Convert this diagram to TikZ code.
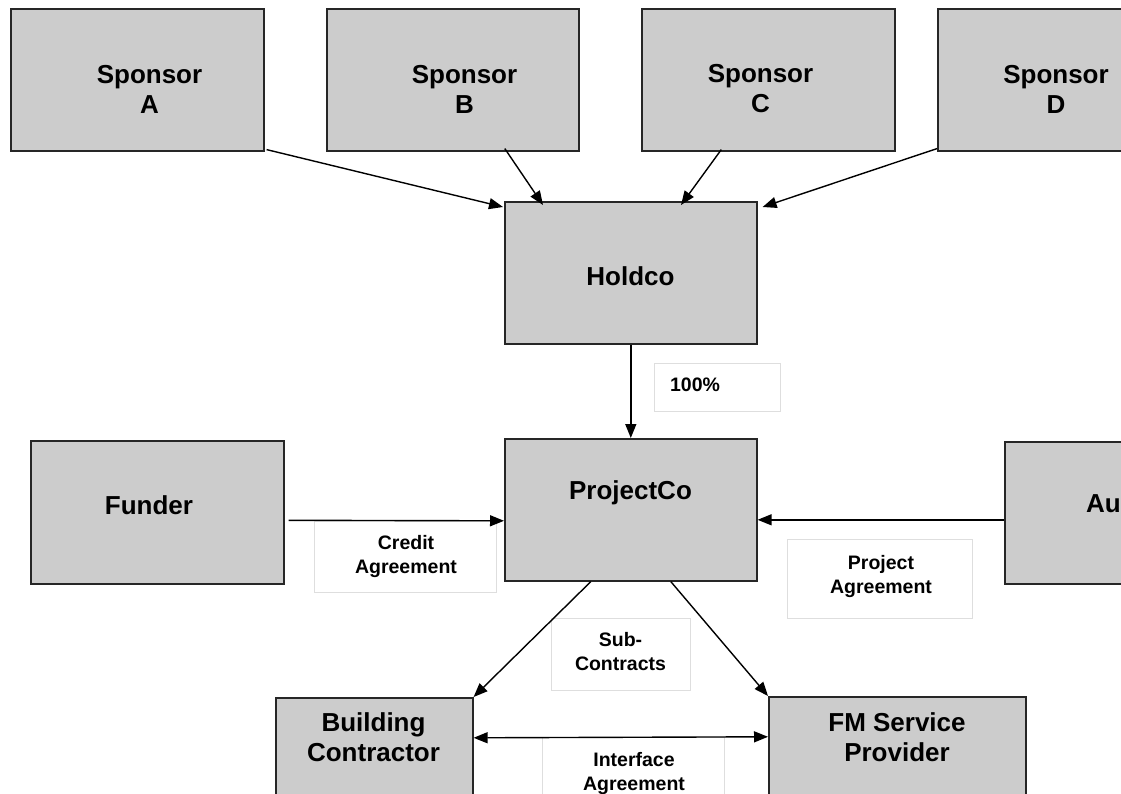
\documentclass[tikz,border=0pt]{standalone}
\usepackage{fontspec}
\setmainfont{Liberation Sans}
\usetikzlibrary{arrows.meta}
\tikzset{
  x=1pt, y=-1pt,
  box/.style={draw=black!85, fill=black!20, line width=1.6pt, rectangle, anchor=north west, inner sep=0pt},
  lbox/.style={draw=black!13, fill=white, line width=1pt, rectangle, anchor=north west, inner sep=0pt},
  big/.style={font=\bfseries\fontsize{26}{30}\selectfont, align=center, inner sep=0pt},
  small/.style={font=\bfseries\fontsize{19.5}{24}\selectfont, align=center, inner sep=0pt},
  arr/.style={line width=1.4pt, -{Triangle[length=14pt,width=11pt]}},
  darr/.style={line width=1.4pt, {Triangle[length=14pt,width=11pt]}-{Triangle[length=14pt,width=11pt]}}
}
\begin{document}
\begin{tikzpicture}
\useasboundingbox (0,0) rectangle (1121,794);
\clip (0,0) rectangle (1121,794);
% main boxes
\node[box, minimum width=253pt, minimum height=142pt] (sa) at (10,8) {};
\node[box, minimum width=252pt, minimum height=142pt] (sb) at (326,8) {};
\node[box, minimum width=253pt, minimum height=142pt] (sc) at (641,8) {};
\node[box, minimum width=253pt, minimum height=142pt] (sd) at (937,8) {};
\node[box, minimum width=252pt, minimum height=142pt] (hold) at (504,201) {};
\node[box, minimum width=252pt, minimum height=142pt] (pc) at (504,438) {};
\node[box, minimum width=253pt, minimum height=143pt] (fund) at (30,440) {};
\node[box, minimum width=253pt, minimum height=142pt] (au) at (1004,441) {};
\node[box, minimum width=197pt, minimum height=142pt] (bc) at (275,697) {};
\node[box, minimum width=257pt, minimum height=142pt] (fm) at (768,696) {};
% texts
\node[big] (saT) at (149.5,89) {Sponsor\\A};
\node[big] (sbT) at (464.5,89) {Sponsor\\B};
\node[big] (scT) at (760.5,89) {Sponsor\\C};
\node[big] (sdT) at (1056,89) {Sponsor\\D};
\node[big] (holdT) at (630.5,276) {Holdco};
\node[big] (pcT) at (630.5,493) {ProjectCo};
\node[big] (fundT) at (149,505.5) {Funder};
\node[big, anchor=west] (auT) at (1086,505.5) {Authority};
\node[big] (bcT) at (373.5,737) {Building\\Contractor};
\node[big] (fmT) at (897,737) {FM Service\\Provider};
% label boxes
\node[lbox, minimum width=126pt, minimum height=48pt] (l100) at (654,363) {};
\node[lbox, minimum width=182pt, minimum height=71pt] (lcr) at (314,521) {};
\node[lbox, minimum width=185pt, minimum height=79pt] (lpa) at (787,539) {};
\node[lbox, minimum width=139pt, minimum height=72pt] (lsc) at (551,618) {};
\node[lbox, minimum width=182pt, minimum height=80pt] (lia) at (542,737) {};
\node[small] (l100T) at (695,385) {100\%};
\node[small] (lcrT) at (406,556.5) {Credit\\Agreement};
\node[small] (lpaT) at (881,576) {Project\\Agreement};
\node[small] (lscT) at (620.5,651.5) {Sub-\\Contracts};
\node[small] (liaT) at (634,773) {Interface\\Agreement};
% connectors
\draw[arr] ([xshift=2pt,yshift=2pt]sa.south east) -- ([xshift=-1pt,yshift=-6pt]hold.north west);
\draw[arr] ([xshift=52pt,yshift=3pt]sb.south) -- ([xshift=39pt,yshift=-4pt]hold.north west);
\draw[arr] ([xshift=-47pt,yshift=2pt]sc.south) -- ([xshift=177pt,yshift=-4pt]hold.north west);
\draw[arr] ([yshift=3pt]sd.south west) -- ([xshift=5pt,yshift=-6pt]hold.north east);
\draw[arr] (hold.south) -- (pc.north);
\draw[arr] ([xshift=4pt,yshift=-8pt]fund.east) -- ([yshift=-11pt]pc.west);
\draw[arr] ([yshift=-7pt]au.west) -- ([yshift=-10pt]pc.east);
\draw[arr] ([xshift=-40pt]pc.south) -- (bc.north east);
\draw[arr] ([xshift=40pt]pc.south) -- (fm.north west);
\draw[darr] ([yshift=31pt]bc.east) -- ([yshift=31pt]fm.west);
\end{tikzpicture}
\end{document}
